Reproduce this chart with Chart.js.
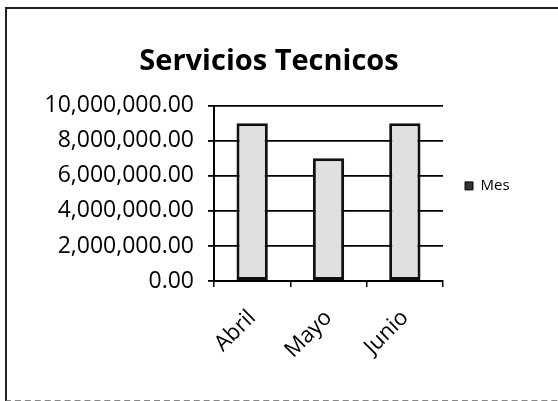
<!DOCTYPE html>
<html>
<head>
<meta charset="utf-8">
<script src="https://cdn.jsdelivr.net/npm/chart.js@4"></script>
<style>
  html, body { margin: 0; padding: 0; background: #fff; overflow: hidden; }
  #wrap { position: relative; width: 558px; height: 401px; overflow: hidden; }
  #frame { position: absolute; left: 5px; top: 7px; width: 600px; height: 391px;
           border-left: 2px solid #222; border-top: 2px solid #222; border-bottom: 2px dashed #888; }
  canvas { position: absolute; left: 0; top: 0; }
</style>
</head>
<body>
<div id="wrap">
  <div id="frame"></div>
  <canvas id="chart" width="558" height="401"></canvas>
</div>
<script>
const months = ['Abril', 'Mayo', 'Junio'];
const mesValues = [9000000, 7000000, 9000000];
const yTicks = [0, 2000000, 4000000, 6000000, 8000000, 10000000];

const font = '"Open Sans", Lato, sans-serif';

// widen the right legend box so the plot ends where the original does
const legendWidth = {
  id: 'legendWidth',
  beforeLayout(chart) {
    const lg = chart.legend;
    if (!lg || lg._wide) return;
    const fit = lg.fit.bind(lg);
    lg.fit = function () { fit(); this.width = 95; };
    lg._wide = true;
  },
};

new Chart(document.getElementById('chart'), {
  type: 'bar',
  data: {
    labels: months,
    datasets: [{
      label: 'Mes',
      data: mesValues,
      backgroundColor: '#e0e0e0',
      borderColor: '#111',
      borderWidth: 3,
      borderSkipped: false,
      categoryPercentage: 1,
      barPercentage: 0.41,
    }],
  },
  options: {
    responsive: false,
    animation: false,
    layout: { padding: { left: 0, right: 20, top: 0, bottom: 0 } },
    plugins: {
      title: {
        display: true,
        text: 'Servicios Tecnicos',
        color: '#000',
        font: { family: font, size: 29, weight: 'bold', lineHeight: 1.2 },
        padding: { top: 44, bottom: 27 },
      },
      legend: {
        position: 'right',
        align: 'start',
        title: { display: true, text: ' ', font: { size: 12, lineHeight: 1.2 }, padding: 71 },
        labels: {
          color: '#000',
          font: { family: font, size: 15 },
          boxWidth: 8,
          boxHeight: 8,
          padding: 22,
          generateLabels: (chart) => Chart.defaults.plugins.legend.labels.generateLabels(chart)
            .map((item) => ({ ...item, fillStyle: '#333', strokeStyle: '#000', lineWidth: 1 })),
        },
      },
      tooltip: { enabled: false },
    },
    scales: {
      x: {
        afterFit: (scale) => { scale.height = 120; },
        border: { color: '#000', width: 2 },
        grid: { display: true, drawOnChartArea: false, drawTicks: true, tickLength: 6, color: '#000', lineWidth: 1.5 },
        ticks: { color: '#000', font: { family: font, size: 22 }, minRotation: 45, maxRotation: 45, padding: 18 },
      },
      y: {
        min: 0,
        max: 10000000,
        afterFit: (scale) => { scale.width = 214; },
        afterBuildTicks: (scale) => { scale.ticks = yTicks.map((v) => ({ value: v })); },
        border: { color: '#000', width: 2 },
        grid: { color: '#000', lineWidth: 1.8, tickLength: 6 },
        ticks: {
          color: '#000',
          font: { family: font, size: 23 },
          padding: 14,
          callback: (v) => Number(v).toLocaleString('en-US', { minimumFractionDigits: 2, maximumFractionDigits: 2 }),
        },
      },
    },
  },
  plugins: [legendWidth],
});
</script>
</body>
</html>
